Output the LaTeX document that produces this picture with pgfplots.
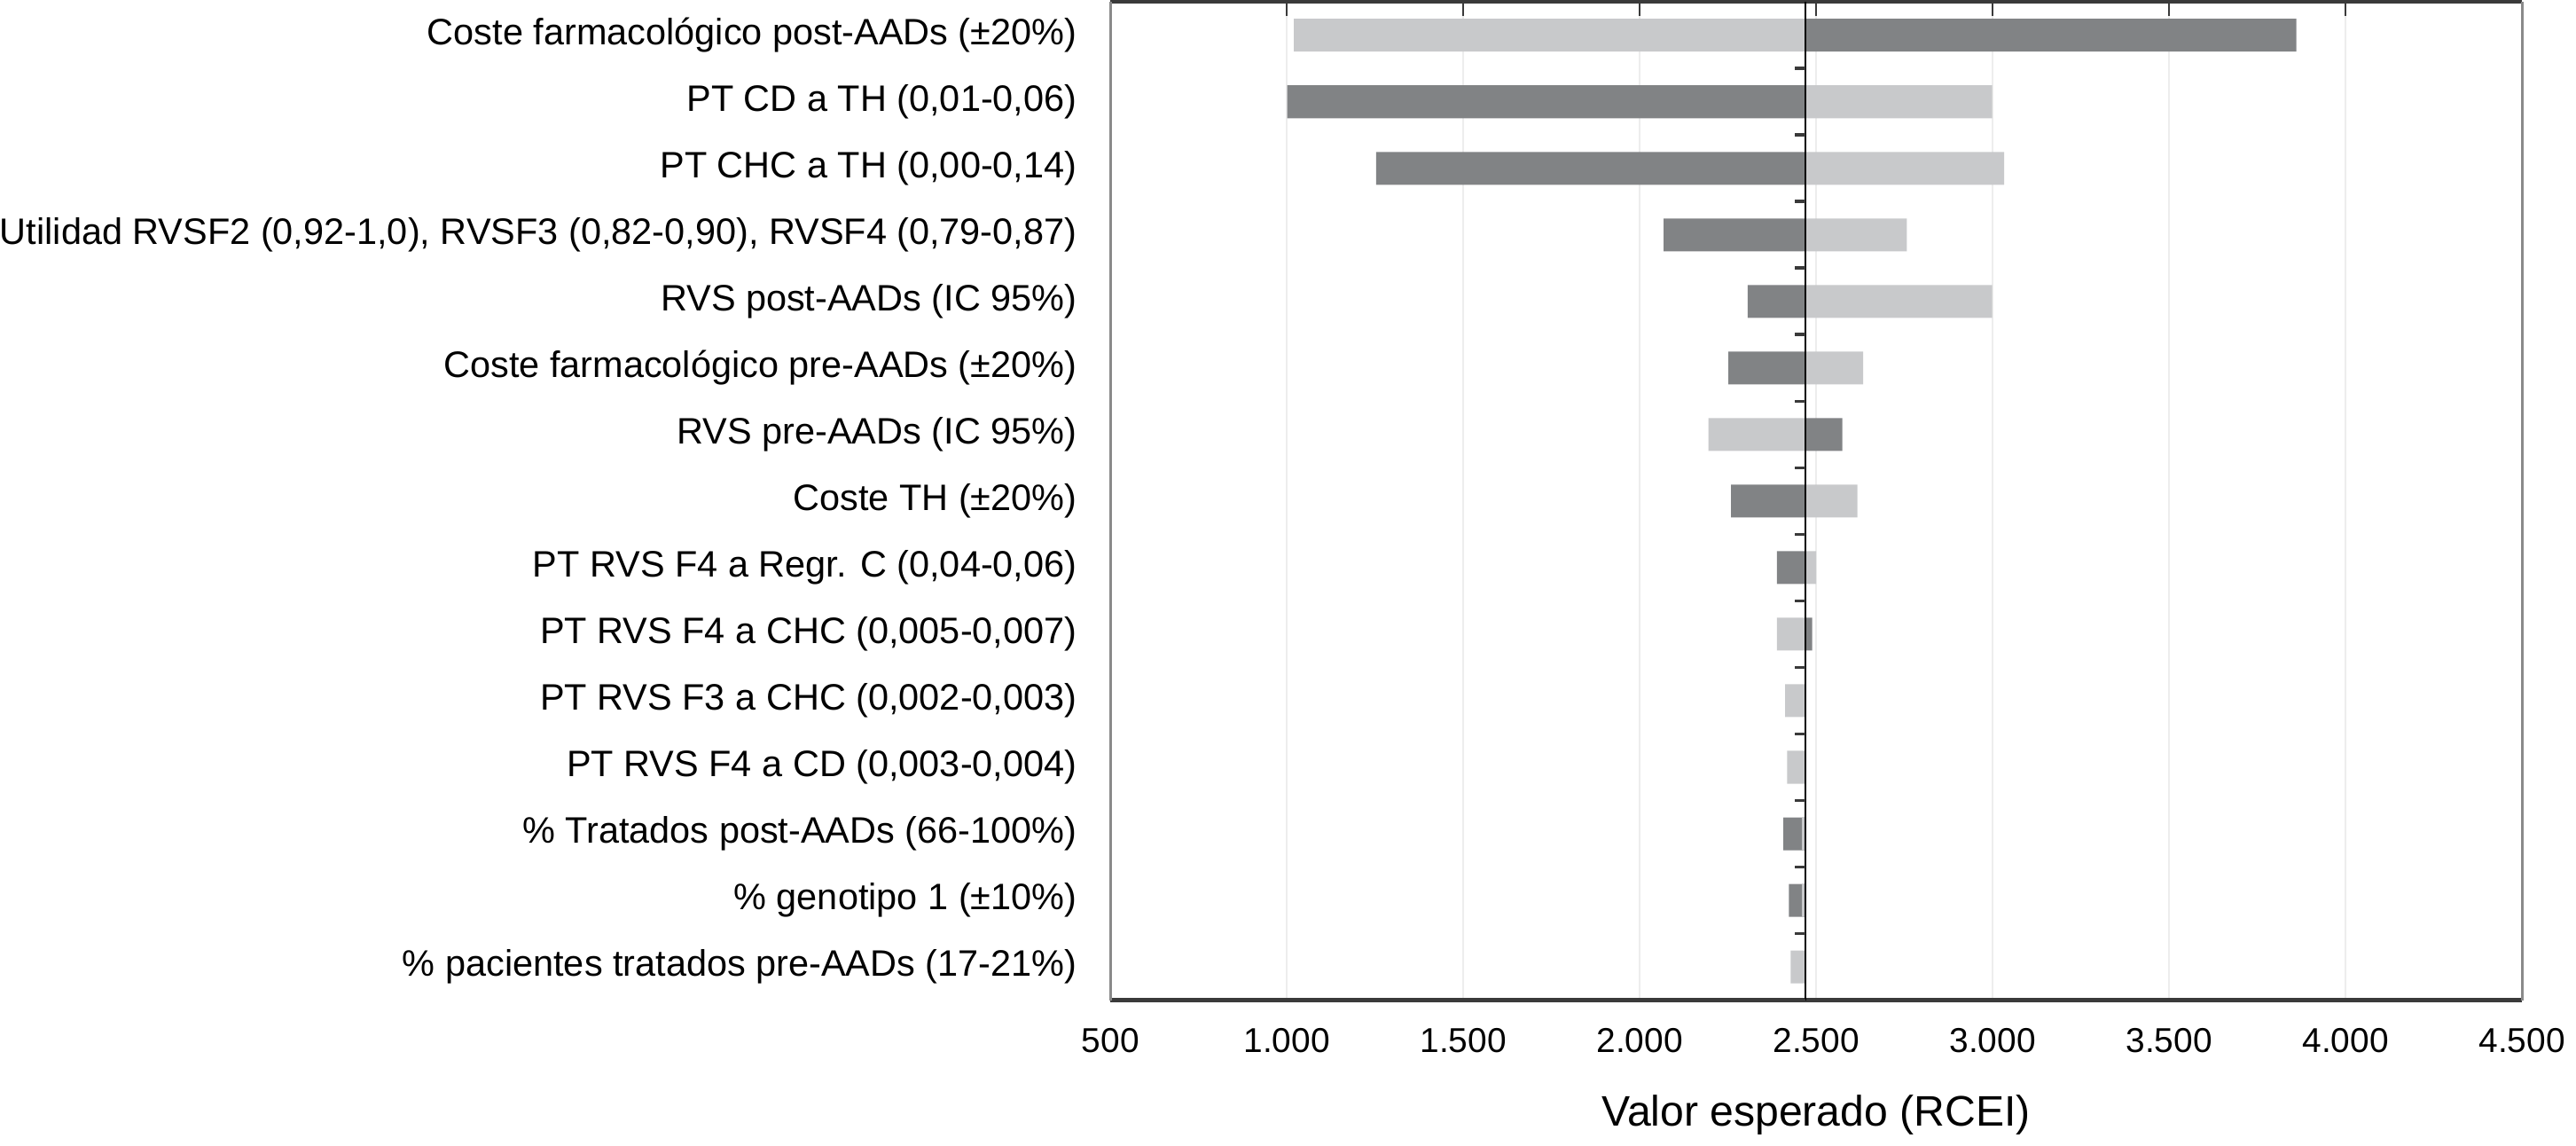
\documentclass[border=0pt]{standalone}
\usepackage{fontspec}
\setmainfont{Liberation Sans}
\usepackage{pgfplots}
\pgfplotsset{compat=1.18}
\usepackage{pgfplotstable}

\definecolor{barDark}{HTML}{818385}
\definecolor{barLight}{HTML}{C8C9CB}
\definecolor{frameDark}{HTML}{3A3A3A}
\definecolor{frameGray}{HTML}{8A8A8A}
\definecolor{gridGray}{HTML}{EDEDED}

% rows from bottom (1) to top (15); bar ends in RCEI, base value 2470
\pgfplotstableread{
y  dark  light
15 3861  1020
14 1001  2999
13 1253  3033
12 2068  2757
11 2306  2999
10 2251  2633
9  2574  2195
8  2259  2617
7  2389  2500
6  2489  2389
5  2470  2412
4  2470  2418
3  2407  2460
2  2423  2460
1  2470  2428
}\tornado

\begin{document}
\begin{tikzpicture}
\begin{axis}[
    scale only axis,
    width=430pt,
    height=304pt,
    xmin=-1970, xmax=2030,
    ymin=0.5, ymax=15.5,
    separate axis lines,
    x axis line style={draw=frameDark, line width=1.2pt},
    y axis line style={draw=frameGray, line width=0.8pt},
    xtick={-1970,-1470,...,2030},
    xticklabels={500,1.000,1.500,2.000,2.500,3.000,3.500,4.000,4.500},
    xtick pos=right,
    xticklabel pos=left,
    xtick style={draw=frameDark, line width=0.6pt},
    major tick length=4.3pt,
    xticklabel style={font=\fontsize{10.5}{12}\selectfont, yshift=-5pt},
    xmajorgrids,
    grid style={draw=gridGray, line width=0.4pt},
    ytick={1,...,15},
    yticklabels={
        {\% pacientes tratados pre-AADs (17-21\%)},
        {\% genotipo 1 (±10\%)},
        {\% Tratados post-AADs (66-100\%)},
        {PT RVS F4 a CD (0,003-0,004)},
        {PT RVS F3 a CHC (0,002-0,003)},
        {PT RVS F4 a CHC (0,005-0,007)},
        {PT RVS F4 a Regr. C (0,04-0,06)},
        {Coste TH (±20\%)},
        {RVS pre-AADs (IC 95\%)},
        {Coste farmacológico pre-AADs (±20\%)},
        {RVS post-AADs (IC 95\%)},
        {Utilidad RVSF2 (0,92-1,0), RVSF3 (0,82-0,90), RVSF4 (0,79-0,87)},
        {PT CHC a TH (0,00-0,14)},
        {PT CD a TH (0,01-0,06)},
        {Coste farmacológico post-AADs (±20\%)}
    },
    ytick style={draw=none},
    yticklabel style={font=\fontsize{11.2}{13}\selectfont, inner sep=0pt, xshift=-10pt},
    xlabel={Valor esperado (RCEI)},
    xlabel style={font=\fontsize{13}{15}\selectfont, yshift=-6pt},
]
\addplot[xbar, bar width=10pt, bar shift=0pt, fill=barDark, draw=none]
    table[x expr=\thisrow{dark}-2470, y=y]{\tornado};
\addplot[xbar, bar width=10pt, bar shift=0pt, fill=barLight, draw=none]
    table[x expr=\thisrow{light}-2470, y=y]{\tornado};
\addplot[black, line width=0.5pt] coordinates {(0,0.5) (0,15.5)};
\pgfplotsinvokeforeach{0.5,1.5,...,14.5}{
    \draw[frameDark, line width=1pt] (axis cs:0,#1) -- ++(-3.4pt,0pt);
}
\end{axis}
\end{tikzpicture}
\end{document}
